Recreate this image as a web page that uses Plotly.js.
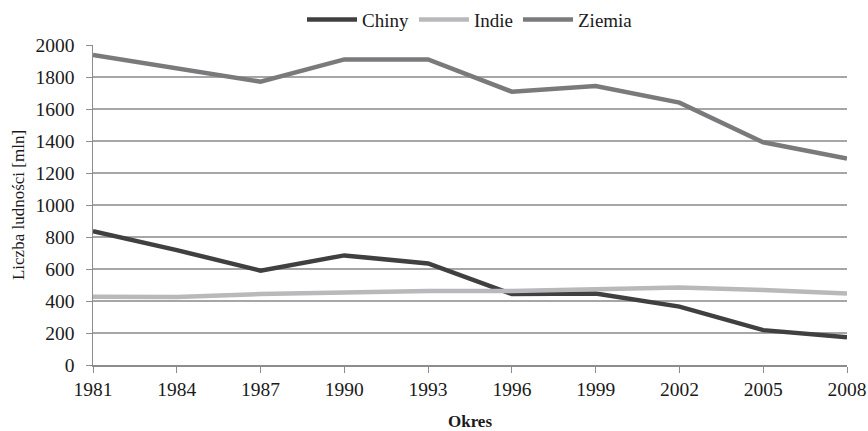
<!DOCTYPE html>
<html>
<head>
<meta charset="utf-8">
<script src="https://cdn.plot.ly/plotly-3.0.1.min.js"></script>
<style>html,body{margin:0;padding:0;background:#fff;}#chart{width:868px;height:431px;}</style>
</head>
<body>
<div id="chart"></div>
<script>
const years = [1981, 1984, 1987, 1990, 1993, 1996, 1999, 2002, 2005, 2008];
const chiny = [837, 718, 590, 685, 635, 443, 447, 365, 218, 173];
const indie = [427, 425, 443, 452, 463, 463, 474, 485, 468, 447];
const ziemia = [1937, 1853, 1771, 1910, 1910, 1708, 1744, 1640, 1392, 1290];
const yTicks = [0, 200, 400, 600, 800, 1000, 1200, 1400, 1600, 1800, 2000];

const font = {family: 'Liberation Serif', color: '#1a1a1a'};

const traces = [
  {x: years, y: chiny, name: 'Chiny', mode: 'lines', line: {color: '#404040', width: 4.5}},
  {x: years, y: indie, name: 'Indie', mode: 'lines', line: {color: '#b9b9bb', width: 4.5}},
  {x: years, y: ziemia, name: 'Ziemia', mode: 'lines', line: {color: '#7a7a7c', width: 4.5}}
];

const layout = {
  width: 868, height: 431,
  margin: {l: 93, r: 21, t: 45, b: 66, autoexpand: false},
  paper_bgcolor: '#fff', plot_bgcolor: '#fff',
  font: Object.assign({size: 19}, font),
  showlegend: true,
  legend: {orientation: 'h', x: 0.5, xanchor: 'center', y: 1.02, yanchor: 'bottom',
           font: Object.assign({size: 19}, font), itemwidth: 50, tracegroupgap: 0,
           traceorder: 'normal'},
  xaxis: {
    range: [1981, 2008], tickvals: years, ticktext: years.map(String),
    showgrid: false, zeroline: false,
    showline: true, linecolor: '#8c8c8c', linewidth: 1.5,
    ticks: 'outside', ticklen: 6, tickcolor: '#8c8c8c', tickwidth: 1,
    tickfont: Object.assign({size: 19.5}, font),
    title: {text: '<b>Okres</b>', font: Object.assign({size: 17}, font), standoff: 16}
  },
  yaxis: {
    range: [0, 2000], tickvals: yTicks,
    showgrid: true, gridcolor: '#a6a6a6', gridwidth: 1.2,
    zeroline: false,
    showline: true, linecolor: '#8c8c8c', linewidth: 1.5,
    ticks: 'outside', ticklen: 6, tickcolor: '#8c8c8c',
    ticklabelstandoff: 7,
    tickfont: Object.assign({size: 19.5}, font),
    title: {text: 'Liczba ludności [mln]', font: Object.assign({size: 17}, font), standoff: 6}
  }
};

Plotly.newPlot('chart', traces, layout, {displayModeBar: false, staticPlot: true});
</script>
</body>
</html>
